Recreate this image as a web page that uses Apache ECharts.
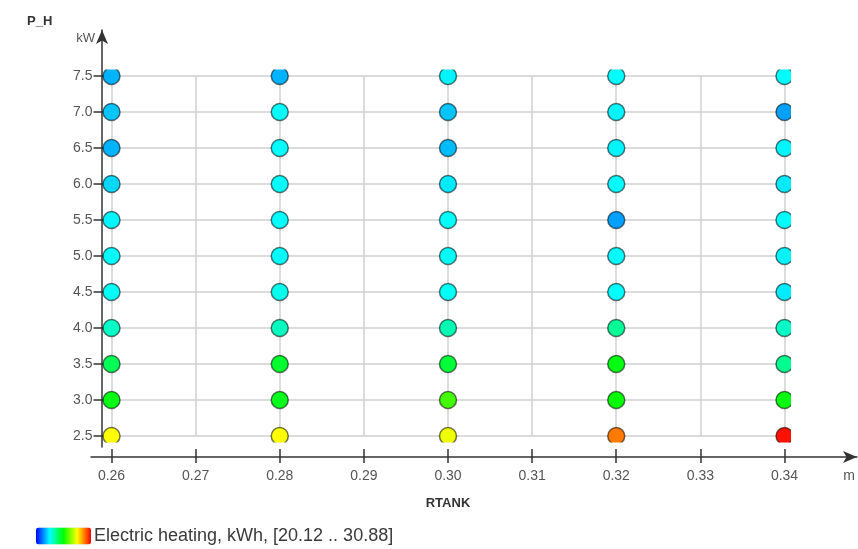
<!DOCTYPE html>
<html>
<head>
<meta charset="utf-8">
<script src="https://cdn.jsdelivr.net/npm/echarts@6/dist/echarts.min.js"></script>
<style>html,body{margin:0;padding:0;background:#fff}#c{width:858px;height:549px}</style>
</head>
<body>
<div id="c"></div>
<script>
// ---- data ----
const rtank = [0.26, 0.28, 0.30, 0.32, 0.34];            // m
const pH = [2.5, 3.0, 3.5, 4.0, 4.5, 5.0, 5.5, 6.0, 6.5, 7.0, 7.5]; // kW
// Electric heating, kWh per RTANK column, from P_H = 2.5 up to 7.5
const heat026 = [28.2, 25.3, 24.6, 23.4, 22.9, 22.8, 22.7, 22.4, 22.0, 22.2, 22.0];
const heat028 = [28.2, 25.2, 25.0, 23.5, 23.0, 22.8, 22.8, 22.8, 22.8, 22.8, 22.0];
const heat030 = [28.0, 26.2, 24.9, 23.6, 22.9, 22.9, 22.8, 22.6, 22.1, 22.2, 22.7];
const heat032 = [29.6, 25.5, 25.3, 23.9, 22.8, 22.8, 21.8, 22.8, 22.7, 22.7, 22.8];
const heat034 = [30.7, 25.4, 24.0, 23.4, 22.6, 22.7, 22.8, 22.6, 22.7, 21.8, 22.8];
const heatRange = [20.12, 30.88];
const legendText = 'Electric heating, kWh, [20.12 .. 30.88]';

const columns = [heat026, heat028, heat030, heat032, heat034];
const points = [];
rtank.forEach((x, i) => pH.forEach((y, j) => points.push([x, y, columns[i][j]])));

const font = 'Liberation Sans, Arial, sans-serif';
const chart = echarts.init(document.getElementById('c'), null, {renderer: 'canvas'});
const hidden = {show: false, type: 'value', min: 0, max: 1};

chart.setOption({
  animation: false,
  backgroundColor: '#fff',
  title: {text: 'P_H', left: 22, top: 10,
    textStyle: {fontSize: 13, fontWeight: 'bold', color: '#333', fontFamily: font}},
  grid: [
    {left: 111.5, right: 73.5, top: 76, bottom: 113},   // 0 grid lines + labels
    {left: 102, right: 67, top: 69.5, bottom: 106.5},   // 1 data (clipped)
    {left: 102, right: 700, top: 30, bottom: 102},      // 2 y axis line
    {left: 91, right: 1, top: 30, bottom: 92}           // 3 x axis line
  ],
  xAxis: [
    {gridIndex: 0, type: 'value', min: 0.26, max: 0.34, interval: 0.01, offset: 13,
      axisLine: {show: false},
      axisTick: {show: true, length: 14, lineStyle: {color: '#333', width: 1.5}},
      axisLabel: {margin: 20, fontSize: 14, color: '#555', fontFamily: font,
        formatter: v => v.toFixed(2)},
      splitLine: {show: true, lineStyle: {color: '#d0d0d0', width: 1.5}},
      name: 'RTANK', nameLocation: 'middle', nameGap: 48,
      nameTextStyle: {fontSize: 13, fontWeight: 'bold', color: '#333', fontFamily: font}},
    {gridIndex: 1, type: 'value', min: 0.258870, max: 0.340773, show: false},
    Object.assign({gridIndex: 2}, hidden),
    {gridIndex: 3, type: 'value', min: 0, max: 1,
      axisLine: {show: true, symbol: ['none', 'arrow'], symbolSize: [9, 14],
        lineStyle: {color: '#333', width: 1.5}},
      axisTick: {show: false}, axisLabel: {show: false}, splitLine: {show: false},
      name: 'm', nameLocation: 'end', nameGap: -2,
      nameTextStyle: {align: 'right', verticalAlign: 'top', padding: [12, 0, 0, 0],
        fontSize: 14, color: '#555', fontFamily: font}}
  ],
  yAxis: [
    {gridIndex: 0, type: 'value', min: 2.5, max: 7.5, interval: 0.5,
      axisLine: {show: false},
      axisTick: {show: true, length: 18, lineStyle: {color: '#333', width: 1.5}},
      axisLabel: {margin: 19, fontSize: 14, color: '#555', fontFamily: font,
        formatter: v => v.toFixed(1)},
      splitLine: {show: true, lineStyle: {color: '#d0d0d0', width: 1.5}}},
    {gridIndex: 1, type: 'value', min: 2.409722, max: 7.590278, show: false},
    {gridIndex: 2, type: 'value', min: 0, max: 1,
      axisLine: {show: true, symbol: ['none', 'arrow'], symbolSize: [9, 14],
        lineStyle: {color: '#333', width: 1.5}},
      axisTick: {show: false}, axisLabel: {show: false}, splitLine: {show: false},
      name: 'kW', nameLocation: 'end', nameGap: -8,
      nameTextStyle: {align: 'right', verticalAlign: 'middle', padding: [0, 7, 0, 0],
        fontSize: 13, color: '#555', fontFamily: font}},
    Object.assign({gridIndex: 3}, hidden)
  ],
  visualMap: {
    type: 'continuous', min: heatRange[0], max: heatRange[1], dimension: 2,
    seriesIndex: 0, orient: 'horizontal', left: 21, top: 512,
    itemWidth: 17, itemHeight: 55, calculable: false, realtime: false,
    text: [legendText, ''], textGap: 3, showLabel: true,
    textStyle: {fontSize: 18, color: '#3a3a3a', fontFamily: font},
    inRange: {color: ['#0000ff', '#0080ff', '#00ffff', '#00ff80', '#00ff00',
                      '#80ff00', '#ffff00', '#ff8000', '#ff0000']}
  },
  series: [{
    type: 'custom', xAxisIndex: 1, yAxisIndex: 1, clip: true,
    encode: {x: 0, y: 1},
    renderItem: function (params, api) {
      const p = api.coord([api.value(0), api.value(1)]);
      return {
        type: 'circle',
        shape: {cx: p[0], cy: p[1], r: 8.5},
        style: {fill: api.visual('color'), stroke: 'rgba(0,0,0,0.55)', lineWidth: 1.5}
      };
    },
    data: points
  }]
});
</script>
</body>
</html>
